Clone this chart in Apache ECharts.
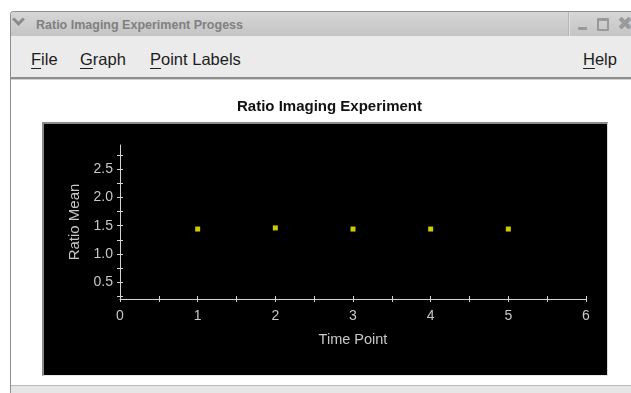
<!DOCTYPE html>
<html>
<head>
<meta charset="utf-8">
<script src="https://cdn.jsdelivr.net/npm/echarts@6/dist/echarts.min.js"></script>
<style>
  html, body { margin:0; padding:0; width:631px; height:393px; overflow:hidden; background:#ffffff; }
  .abs { position:absolute; }
  #win { left:10px; top:11px; width:640px; height:400px; background:#ffffff;
         border-left:1px solid #8f8f8f; border-top:1px solid #8f8f8f; border-top-left-radius:4px; }
  #titlebar { left:11px; top:12px; width:640px; height:24px;
              background:linear-gradient(#d6d6d6,#c4c4c4); border-top-left-radius:3px; }
  #wtitle { left:36px; top:17px; font:bold 12.5px "Liberation Sans", Arial, sans-serif; line-height:16px; color:#808080; white-space:nowrap; }
  #chev { left:14px; top:15px; width:6px; height:6px; border-right:3px solid #8a8a8a; border-bottom:3px solid #8a8a8a; transform:rotate(45deg); }
  #sep { left:568px; top:12px; width:1px; height:24px; background:#b5b5b5; border-right:1px solid #e2e2e2; }
  #min { left:578px; top:27px; width:9px; height:3px; background:#999; border-radius:1px; }
  #max { left:597px; top:18px; width:8px; height:8px; border:2px solid #9a9a9a; border-top-width:3px; border-radius:1px; }
  #close { left:617px; top:13px; font:bold 19px "DejaVu Sans", sans-serif; color:#9a9a9a; line-height:20px; }
  #menubar { left:11px; top:36px; width:640px; height:41px; background:#ebebeb; }
  #menuline { left:11px; top:77px; width:640px; height:2px; background:#8e8e8e; }
  #menuline2 { left:11px; top:79px; width:640px; height:1px; background:#d0d0d0; }
  .menu { top:49px; font:16.5px "Liberation Sans", Arial, sans-serif; line-height:20px; color:#1c1c1c; white-space:nowrap; }
  .menu u { text-decoration:underline; text-underline-offset:3px; text-decoration-thickness:1px; }
  #panel { left:42px; top:122px; width:563px; height:251px; background:#000;
           border-top:2px solid #8a8a8a; border-left:2px solid #8a8a8a; border-right:1px solid #d8d8d8; border-bottom:1px solid #e8e8e8; }
  #bottomline { left:11px; top:385px; width:640px; height:1px; background:#b9b9b9; }
  #bottomarea { left:11px; top:386px; width:640px; height:10px; background:#e6e6e6; }
  #chart { left:0; top:0; width:631px; height:393px; z-index:5; }
</style>
</head>
<body>
<div id="win" class="abs"></div>
<div id="titlebar" class="abs"></div>
<div id="chev" class="abs"></div>
<div id="wtitle" class="abs">Ratio Imaging Experiment Progess</div>
<div id="sep" class="abs"></div>
<div id="min" class="abs"></div>
<div id="max" class="abs"></div>
<div id="close" class="abs">✖</div>
<div id="menubar" class="abs"></div>
<div class="abs menu" style="left:31px"><u>F</u>ile</div>
<div class="abs menu" style="left:80px"><u>G</u>raph</div>
<div class="abs menu" style="left:150px"><u>P</u>oint Labels</div>
<div class="abs menu" style="left:583px"><u>H</u>elp</div>
<div id="menuline" class="abs"></div>
<div id="menuline2" class="abs"></div>
<div id="panel" class="abs"></div>
<div id="bottomline" class="abs"></div>
<div id="bottomarea" class="abs"></div>
<div id="chart" class="abs"></div>
<script>
// ---- data ----
const chartTitle = "Ratio Imaging Experiment";
const xAxisName = "Time Point";
const yAxisName = "Ratio Mean";
const timePoints = [1, 2, 3, 4, 5];
const ratioMeans = [1.44, 1.46, 1.44, 1.44, 1.44];
const xTickLabels = [0, 1, 2, 3, 4, 5, 6];
const xTickMarks = [0, 0.5, 1, 1.5, 2, 2.5, 3, 3.5, 4, 4.5, 5, 5.5, 6];
const yTickLabels = [0.5, 1.0, 1.5, 2.0, 2.5];
const yTickMarks = [0.25, 0.5, 0.75, 1.0, 1.25, 1.5, 1.75, 2.0, 2.25, 2.5, 2.75];
const xRange = [0, 6];
const yRange = [0.2, 2.93];

const points = timePoints.map((t, i) => [t, ratioMeans[i]]);
const axisColor = '#d4d4d4';
const labelColor = '#c8c8c8';
const font = '"Liberation Sans", Arial, sans-serif';

const gridLeft = 120, gridRight = 45, gridTop = 145, gridBottom = 94;
const W = 631, H = 393;
const gridW = W - gridLeft - gridRight;
const gridH = H - gridTop - gridBottom;

// secondary (label-less) axes give the ticks their second half, so ticks cross the axis lines
const tickOnly = (extra) => Object.assign({
  type: 'value',
  axisLine: { show: false, onZero: false },
  axisLabel: { show: false },
  splitLine: { show: false }
}, extra);

const chart = echarts.init(document.getElementById('chart'), null, { renderer: 'canvas' });
chart.setOption({
  backgroundColor: 'transparent',
  animation: false,
  title: {
    text: chartTitle, left: 232, top: 94,
    textStyle: { fontFamily: font, fontSize: 15, fontWeight: 'bold', color: '#111111' }
  },
  grid: { left: gridLeft, right: gridRight, top: gridTop, bottom: gridBottom, containLabel: false },
  xAxis: [{
    type: 'value', min: xRange[0], max: xRange[1], position: 'bottom',
    name: xAxisName, nameLocation: 'middle', nameGap: 33,
    nameTextStyle: { fontFamily: font, fontSize: 14.5, color: labelColor },
    axisLine: { show: true, onZero: false, lineStyle: { color: axisColor, width: 1 } },
    axisTick: { show: true, length: 3, customValues: xTickMarks, lineStyle: { color: axisColor } },
    axisLabel: { customValues: xTickLabels, margin: 10, fontFamily: font, fontSize: 14, color: labelColor,
                 formatter: v => String(v) },
    splitLine: { show: false }
  }, tickOnly({
    min: xRange[0], max: xRange[1], position: 'top', offset: -gridH,
    axisTick: { show: true, length: 3, customValues: xTickMarks, lineStyle: { color: axisColor } }
  })],
  yAxis: [{
    type: 'value', min: yRange[0], max: yRange[1], position: 'left',
    name: yAxisName, nameLocation: 'middle', nameGap: 37, nameRotate: 90,
    nameTextStyle: { fontFamily: font, fontSize: 15, color: labelColor },
    axisLine: { show: true, onZero: false, lineStyle: { color: axisColor, width: 1 } },
    axisTick: { show: true, length: 3, customValues: yTickMarks, lineStyle: { color: axisColor } },
    axisLabel: { customValues: yTickLabels, margin: 7, fontFamily: font, fontSize: 14, color: labelColor,
                 formatter: v => v.toFixed(1) },
    splitLine: { show: false }
  }, tickOnly({
    min: yRange[0], max: yRange[1], position: 'right', offset: -gridW,
    axisTick: { show: true, length: 3, customValues: yTickMarks, lineStyle: { color: axisColor } }
  })],
  series: [{
    type: 'scatter', symbol: 'rect', symbolSize: 5,
    xAxisIndex: 0, yAxisIndex: 0,
    itemStyle: { color: '#ffff00' },
    data: points
  }]
});
</script>
</body>
</html>
